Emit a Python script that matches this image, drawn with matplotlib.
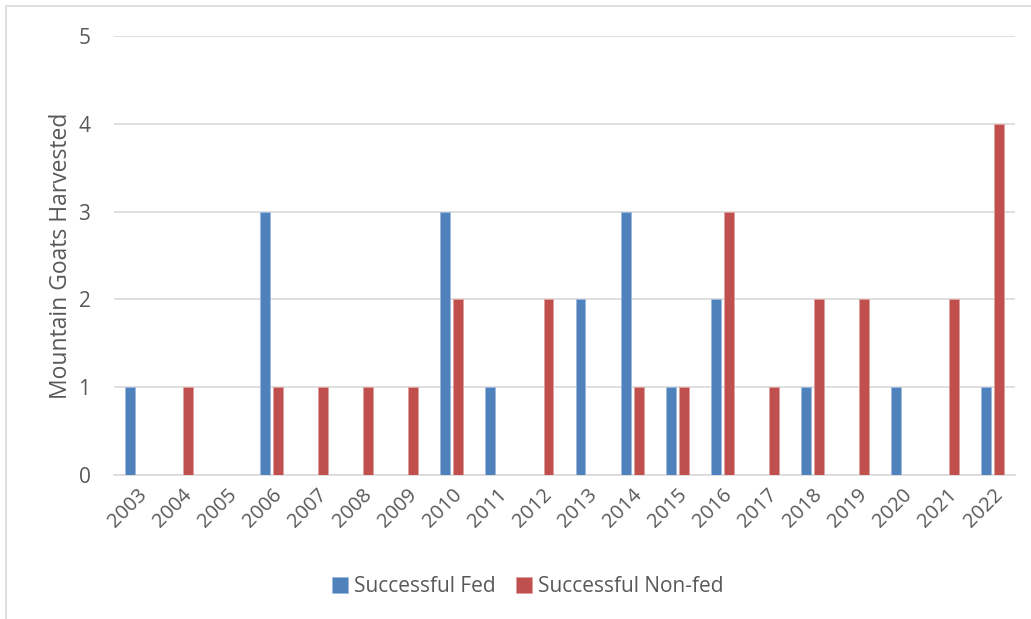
import matplotlib.pyplot as plt
import numpy as np
from matplotlib.patches import Rectangle

# data
years = [str(y) for y in range(2003, 2023)]
fed = [1, 0, 0, 3, 0, 0, 0, 3, 1, 0, 2, 3, 1, 2, 0, 1, 0, 1, 0, 1]
non_fed = [0, 1, 0, 1, 1, 1, 1, 2, 0, 2, 0, 1, 1, 3, 1, 2, 2, 0, 2, 4]
y_ticks = [0, 1, 2, 3, 4, 5]

FED_COLOR = "#4F81BD"
NONFED_COLOR = "#C0504D"
TEXT_COLOR = "#595959"
GRID_COLOR = "#D9D9D9"

plt.rcParams["font.family"] = ["Open Sans", "DejaVu Sans"]

fig = plt.figure(figsize=(10.31, 6.19), dpi=100)
ax = fig.add_axes([0.1106, 0.2326, 0.8739, 0.7092])

x = np.arange(len(years))
bw = 0.22
off = 0.145
ax.bar(x - off, fed, width=bw, color=FED_COLOR, edgecolor="#9DB9DE",
       linewidth=0.6, label="Successful Fed", zorder=3)
ax.bar(x + off, non_fed, width=bw, color=NONFED_COLOR, edgecolor="#E0A09E",
       linewidth=0.6, label="Successful Non-fed", zorder=3)

ax.set_xlim(-0.5, len(years) - 0.5)
ax.set_ylim(0, 5)
ax.set_yticks(y_ticks)
ax.set_yticklabels([str(v) for v in y_ticks], fontsize=15, color=TEXT_COLOR)
ax.set_xticks(x)
ax.set_xticklabels(years, rotation=45, ha="right", rotation_mode="anchor",
                   fontsize=14.5, color=TEXT_COLOR)
ax.tick_params(axis="both", length=0)
ax.tick_params(axis="y", pad=17)
ax.tick_params(axis="x", pad=7)
ax.grid(axis="y", color=GRID_COLOR, linewidth=1.2, zorder=0)
for s in ["top", "right", "left"]:
    ax.spines[s].set_visible(False)
ax.spines["bottom"].set_color(GRID_COLOR)
ax.spines["bottom"].set_linewidth(1.2)

ax.set_ylabel("Mountain Goats Harvested", fontsize=16.5, color=TEXT_COLOR,
              labelpad=4)

leg = fig.legend(loc="center", bbox_to_anchor=(0.512, 0.052), ncol=2,
                 frameon=False, fontsize=15, handlelength=0.75,
                 handleheight=0.75, handletextpad=0.3, columnspacing=1.0)
for t in leg.get_texts():
    t.set_color(TEXT_COLOR)

# light chart-area border (Excel style)
fig.patches.append(Rectangle((6 / 1031, -0.01), 1.02, 1 - 6 / 619 + 0.01,
                             transform=fig.transFigure, fill=False,
                             edgecolor="#D9D9D9", linewidth=1.2))

fig.savefig("out.png", dpi=100, facecolor="white")
